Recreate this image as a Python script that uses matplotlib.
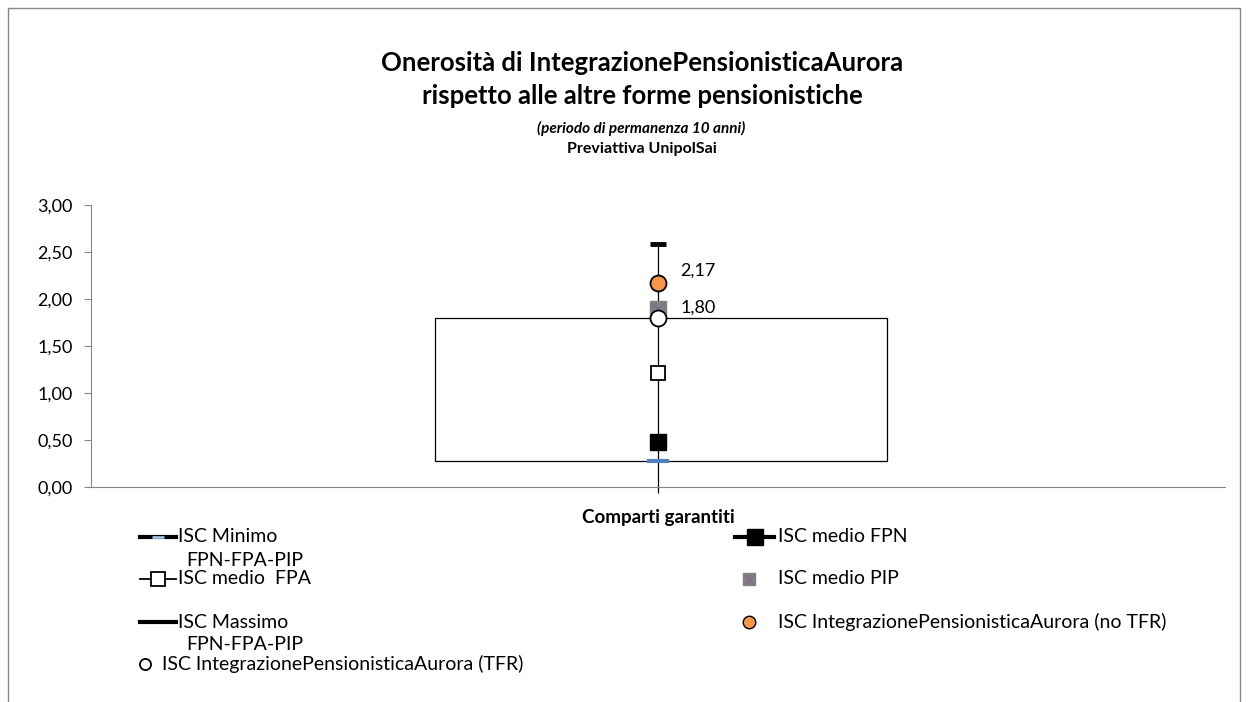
import matplotlib.pyplot as plt
from matplotlib.lines import Line2D
from matplotlib.patches import Rectangle

plt.rcParams['font.family'] = ['Lato', 'DejaVu Sans']

category = 'Comparti garantiti'
isc_min = 0.28
isc_max = 2.59
isc_fpn = 0.48
isc_fpa = 1.21
isc_pip = 1.89
isc_tfr = 1.80
isc_no_tfr = 2.17
y_ticks = [0.0, 0.5, 1.0, 1.5, 2.0, 2.5, 3.0]

W, H = 1250, 702
fig = plt.figure(figsize=(W / 100, H / 100), dpi=100)
ax = fig.add_axes([91 / W, 1 - 487 / H, (1225 - 91) / W, (487 - 205) / H])

cx = 0.5
# box from minimum to the TFR value
ax.add_patch(Rectangle((0.303, isc_min), 0.399, isc_tfr - isc_min,
                       facecolor='none', edgecolor='black', lw=0.9, zorder=1))
ax.vlines(cx, 0, isc_max, color='black', lw=0.9, zorder=2)
ax.plot([cx], [isc_min], marker='_', ms=16, mew=3, color='#4F81BD', zorder=3)
ax.plot([cx], [isc_max], marker='_', ms=12, mew=3.5, color='black', zorder=3)
ax.plot([cx], [isc_fpn], marker='s', ms=12, color='black', zorder=4)
ax.plot([cx], [isc_fpa], marker='s', ms=10.5, mfc='white', mec='black', mew=1.3, zorder=4)
ax.plot([cx], [isc_pip], marker='s', ms=11, mfc='#7F7F7F', mec='#7F7F7F', zorder=4)
ax.plot([cx], [isc_pip], marker='x', ms=9, mec='#8064A2', mew=1, zorder=4)
ax.plot([cx], [isc_tfr], marker='o', ms=11.5, mfc='white', mec='black', mew=1.3, zorder=5)
ax.plot([cx], [isc_no_tfr], marker='o', ms=11.5, mfc='#F79646', mec='black', mew=1.3, zorder=5)

fmt = lambda v: f'{v:.2f}'.replace('.', ',')
ax.annotate(fmt(isc_no_tfr), (cx, isc_no_tfr), xytext=(16, 9), textcoords='offset points',
            fontsize=13, va='center', ha='left')
ax.annotate(fmt(isc_tfr), (cx, isc_tfr), xytext=(16, 7), textcoords='offset points',
            fontsize=13, va='center', ha='left')

ax.set_xlim(0, 1)
ax.set_ylim(0, 3)
ax.set_yticks(y_ticks)
ax.set_yticklabels([fmt(v) for v in y_ticks], fontsize=13)
ax.set_xticks([cx])
ax.set_xticklabels([''])
ax.tick_params(axis='x', length=4, color='black', width=0.9)
ax.tick_params(axis='y', length=5, color='#868686', pad=8)
for s in ['top', 'right']:
    ax.spines[s].set_visible(False)
for s in ['left', 'bottom']:
    ax.spines[s].set_color('#868686')
ax.set_xlabel(category, fontsize=13.5, fontweight='bold', labelpad=8)

# titles
fig.text(642 / W, 1 - 63 / H, 'Onerosità di IntegrazionePensionisticaAurora', ha='center', va='center',
         fontsize=18.5, fontweight='bold')
fig.text(642 / W, 1 - 96 / H, 'rispetto alle altre forme pensionistiche', ha='center', va='center',
         fontsize=18.5, fontweight='bold')
fig.text(641 / W, 1 - 128 / H, '(periodo di permanenza 10 anni)', ha='center', va='center',
         fontsize=11, fontweight='bold', style='italic')
fig.text(642 / W, 1 - 149 / H, 'Previattiva UnipolSai', ha='center', va='center',
         fontsize=11.5, fontweight='bold')

# legend drawn by hand, Excel style
def fx(x):
    return x / W

def fy(y):
    return 1 - y / H

def handle(x0, x1, y, lw=0, marker=None, **kw):
    if lw:
        fig.add_artist(Line2D([fx(x0), fx(x1)], [fy(y), fy(y)], color='black', lw=lw,
                              transform=fig.transFigure))
    if marker:
        fig.add_artist(Line2D([fx((x0 + x1) / 2)], [fy(y)], marker=marker, lw=0,
                              transform=fig.transFigure, **kw))

lfs = 14
handle(140, 176, 537, lw=3)
handle(140, 176, 537, marker='_', ms=8, mew=2, color='#9DC3E6')
fig.text(fx(178), fy(537), 'ISC Minimo', fontsize=lfs, va='center')
fig.text(fx(186), fy(560), 'FPN-FPA-PIP', fontsize=lfs, va='center')
handle(140, 176, 579, lw=1.3, marker='s', ms=9.5, mfc='white', mec='black', mew=1.3)
fig.text(fx(178), fy(579), 'ISC medio  FPA', fontsize=lfs, va='center')
handle(140, 176, 622, lw=3)
fig.text(fx(178), fy(622), 'ISC Massimo', fontsize=lfs, va='center')
fig.text(fx(186), fy(645), 'FPN-FPA-PIP', fontsize=lfs, va='center')
handle(138, 152, 664, marker='o', ms=8, mfc='white', mec='black', mew=1.3)
fig.text(fx(162), fy(664), 'ISC IntegrazionePensionisticaAurora (TFR)', fontsize=lfs, va='center')

handle(735, 774, 537, lw=3, marker='s', ms=11, color='black')
fig.text(fx(778), fy(537), 'ISC medio FPN', fontsize=lfs, va='center')
handle(741, 757, 579, marker='s', ms=9, mfc='#7F7F7F', mec='#7F7F7F')
handle(741, 757, 579, marker='x', ms=7, mec='#8064A2', mew=0.8)
fig.text(fx(778), fy(579), 'ISC medio PIP', fontsize=lfs, va='center')
handle(741, 757, 622, marker='o', ms=9, mfc='#F79646', mec='black', mew=1)
fig.text(fx(778), fy(622), 'ISC IntegrazionePensionisticaAurora (no TFR)', fontsize=lfs, va='center')

# outer chart frame
fig.add_artist(Rectangle((8 / W, -0.05), (1240 - 8) / W, 1.05 - 8 / H, transform=fig.transFigure,
                         facecolor='none', edgecolor='#868686', lw=1))

fig.savefig('out.png', dpi=100)
